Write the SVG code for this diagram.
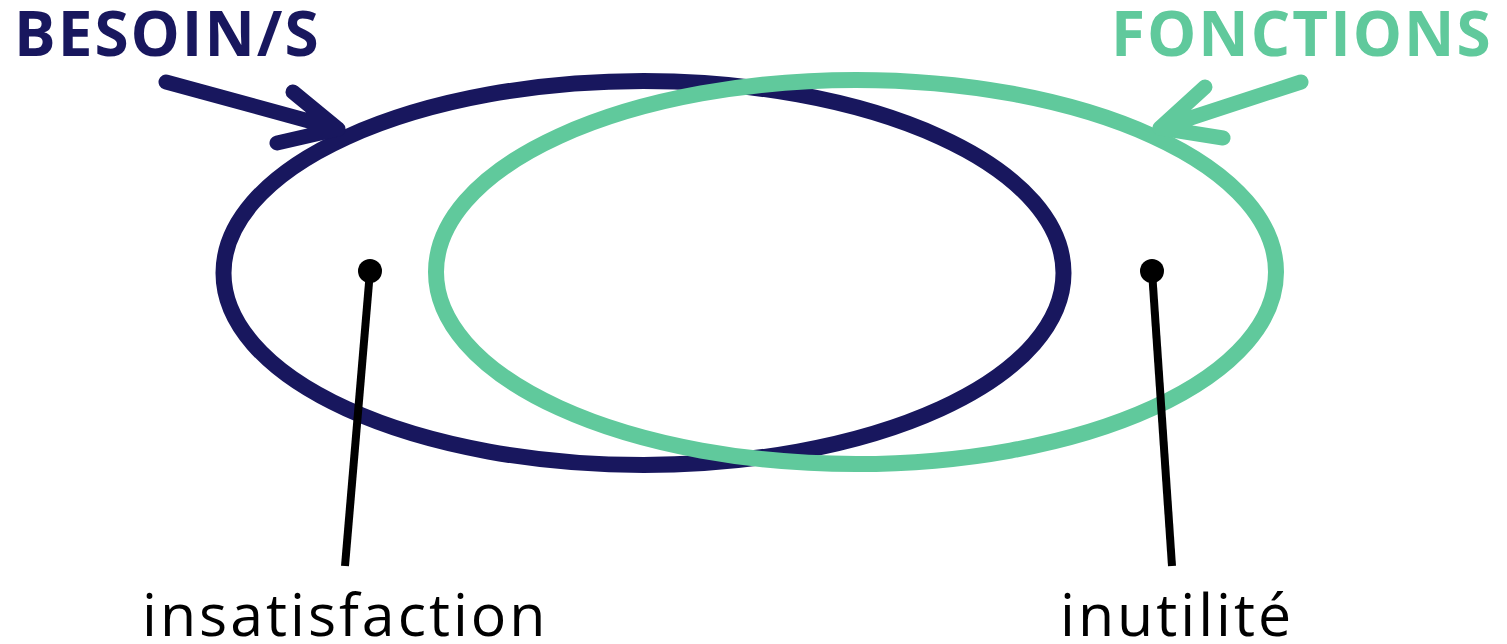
<svg xmlns="http://www.w3.org/2000/svg" width="1507" height="644" viewBox="0 0 1507 644">
<style>
.navy{stroke:#18175e;fill:none}
.green{stroke:#60c99c;fill:none}
.ell{stroke-width:16}
.arr{stroke-width:15;stroke-linecap:round;stroke-linejoin:round;fill:none}
.lead{stroke:#000;stroke-width:8;fill:none}
.dot{fill:#000}
.title{font-family:"Open Sans","Noto Sans",sans-serif;font-weight:bold;font-size:62px;letter-spacing:2px}
.lab{font-family:"Open Sans","Noto Sans",sans-serif;font-size:59px;letter-spacing:3px;fill:#000}
</style>
<rect width="1507" height="644" fill="#fff"/>
<g id="besoins">
<ellipse class="navy ell" cx="643.5" cy="273" rx="420" ry="192"/>
<text class="title" x="14" y="56" fill="#18175e">BESOIN/S</text>
</g>
<g id="fonctions">
<ellipse class="green ell" cx="856" cy="272" rx="420" ry="192"/>
<text class="title" x="1111" y="56" fill="#60c99c" letter-spacing="3">FONCTIONS</text>
</g>
<g id="insatisfaction">
<circle class="dot" cx="370" cy="271" r="12"/>
<text class="lab" x="142" y="636">insatisfaction</text>
</g>
<g id="inutilite">
<circle class="dot" cx="1152" cy="271" r="12"/>
<text class="lab" x="1060" y="636">inutilité</text>
</g>
<g id="connectors">
<path class="navy arr" d="M166,82 L338,129 M293,92 L338,129 L277,143"/>
<path class="green arr" d="M1301,82 L1160,128 M1205,87 L1160,128 L1223,138"/>
<line class="lead" x1="370" y1="271" x2="345" y2="566"/>
<line class="lead" x1="1152" y1="271" x2="1172" y2="566"/>
</g>
</svg>
